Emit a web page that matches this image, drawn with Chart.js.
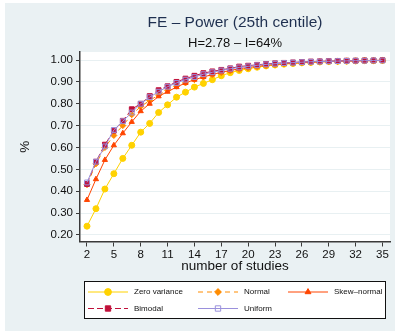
<!DOCTYPE html>
<html>
<head>
<meta charset="utf-8">
<script src="https://cdn.jsdelivr.net/npm/chart.js@4"></script>
<style>
  html, body { margin: 0; padding: 0; background: #ffffff; }
  #wrap { width: 395px; height: 331px; }
</style>
</head>
<body>
<div id="wrap"><canvas id="myChart" width="395" height="331"></canvas></div>
<script>
// number of studies (x) and power per distribution of effects
const studies = [2, 3, 4, 5, 6, 7, 8, 9, 10, 11, 12, 13, 14, 15, 16, 17, 18, 19, 20,
  21, 22, 23, 24, 25, 26, 27, 28, 29, 30, 31, 32, 33, 34, 35];

const zeroVariance = [0.24, 0.32, 0.41, 0.48, 0.55, 0.61, 0.67, 0.71, 0.76, 0.795, 0.83, 0.853,
  0.876, 0.893, 0.91, 0.928, 0.942, 0.952, 0.96, 0.967, 0.973, 0.977, 0.981, 0.984, 0.987,
  0.989, 0.991, 0.993, 0.994, 0.995, 0.996, 0.997, 0.997, 0.998];
const normal = [0.43, 0.525, 0.6, 0.655, 0.7, 0.75, 0.787, 0.815, 0.84, 0.862, 0.88, 0.895,
  0.91, 0.922, 0.932, 0.942, 0.95, 0.957, 0.963, 0.969, 0.974, 0.978, 0.982, 0.985, 0.987,
  0.989, 0.991, 0.992, 0.993, 0.994, 0.995, 0.996, 0.997, 0.997];
const skewNormal = [0.36, 0.455, 0.543, 0.61, 0.665, 0.717, 0.766, 0.8, 0.834, 0.855, 0.876,
  0.895, 0.91, 0.922, 0.934, 0.944, 0.952, 0.96, 0.966, 0.971, 0.976, 0.98, 0.983, 0.986,
  0.988, 0.99, 0.992, 0.993, 0.994, 0.995, 0.996, 0.997, 0.997, 0.998];
const bimodal = [0.433, 0.535, 0.613, 0.677, 0.722, 0.775, 0.8, 0.835, 0.862, 0.88, 0.9, 0.915,
  0.928, 0.94, 0.948, 0.955, 0.962, 0.97, 0.974, 0.978, 0.982, 0.985, 0.987, 0.989, 0.991,
  0.993, 0.994, 0.995, 0.996, 0.997, 0.997, 0.998, 0.998, 0.999];
const uniform = [0.44, 0.535, 0.605, 0.68, 0.72, 0.76, 0.8, 0.83, 0.855, 0.878, 0.895, 0.91,
  0.922, 0.935, 0.944, 0.952, 0.96, 0.966, 0.971, 0.976, 0.98, 0.983, 0.986, 0.988, 0.99,
  0.992, 0.993, 0.994, 0.995, 0.996, 0.997, 0.997, 0.998, 0.998];

const xTicks = [2, 5, 8, 11, 14, 17, 20, 23, 26, 29, 32, 35];
const yTicks = [0.2, 0.3, 0.4, 0.5, 0.6, 0.7, 0.8, 0.9, 1.0];

const titleText = "FE \u2013 Power (25th centile)";
const subtitleText = "H=2.78 \u2013 I=64%";

const bgColor = "#eaf1f3";
const fontFamily = "'Liberation Sans', Arial, Helvetica, sans-serif";
Chart.defaults.font.family = fontFamily;

function pts(values) {
  return values.map(function(v, i) { return { x: studies[i], y: v }; });
}

// fond gris bleuté + zone de tracé blanche
const backgroundPlugin = {
  id: "background",
  beforeDraw: function(chart) {
    const c = chart.ctx;
    const a = chart.chartArea;
    c.save();
    c.fillStyle = "#ffffff";
    c.fillRect(0, 0, chart.width, chart.height);
    c.fillStyle = bgColor;
    c.fillRect(5, 3, chart.width - 5, chart.height - 3);
    c.fillStyle = "#ffffff";
    c.fillRect(a.left, a.top, a.right - a.left, a.bottom - a.top);
    c.restore();
  }
};

// titre et sous-titre centrés sur la zone de tracé
const titlePlugin = {
  id: "titles",
  afterDraw: function(chart) {
    const c = chart.ctx;
    const a = chart.chartArea;
    const cx = (a.left + a.right) / 2;
    c.save();
    c.textAlign = "center";
    c.textBaseline = "middle";
    c.fillStyle = "#1f3050";
    c.font = "15.5px " + fontFamily;
    c.fillText(titleText, cx, 23);
    c.fillStyle = "#111111";
    c.font = "13px " + fontFamily;
    c.fillText(subtitleText, cx, 43);
    c.restore();
  }
};

// légende encadrée à 3 colonnes, façon Stata
const legendPlugin = {
  id: "boxLegend",
  afterDraw: function(chart) {
    const c = chart.ctx;
    const cols = [88, 198, 288];
    const rows = [292, 308.5];
    c.save();
    c.fillStyle = "#ffffff";
    c.fillRect(84, 281, 302, 37.5);
    c.strokeStyle = "#111111";
    c.lineWidth = 1;
    c.strokeRect(84.5, 281.5, 301, 37);
    chart.data.datasets.forEach(function(ds, i) {
      const x = cols[i % 3];
      const y = rows[Math.floor(i / 3)];
      c.strokeStyle = ds.borderColor;
      c.lineWidth = 1;
      c.setLineDash(ds.borderDash || []);
      c.beginPath();
      c.moveTo(x, y);
      c.lineTo(x + 40, y);
      c.stroke();
      c.setLineDash([]);
      c.fillStyle = ds.pointBackgroundColor;
      c.strokeStyle = ds.pointBorderColor;
      c.lineWidth = 1;
      Chart.helpers.drawPoint(c, {
        pointStyle: ds.pointStyle, rotation: 0,
        radius: ds.pointRadius + 0.4, borderWidth: 1
      }, x + 20, y);
      c.fillStyle = "#111111";
      c.font = "8px " + fontFamily;
      c.textAlign = "left";
      c.textBaseline = "middle";
      c.fillText(ds.label, x + 46, y);
    });
    c.restore();
  }
};

function series(label, values, color, style, dash, order, fill) {
  return {
    label: label,
    data: pts(values),
    borderColor: color,
    backgroundColor: color,
    borderWidth: 1,
    borderDash: dash,
    pointStyle: style,
    pointRadius: style === "rect" ? 3.4 : 3,
    pointBackgroundColor: fill,
    pointBorderColor: color,
    pointBorderWidth: 1,
    tension: 0,
    order: order
  };
}

var ctx = document.getElementById("myChart").getContext("2d");
var myChart = new Chart(ctx, {
  type: "line",
  data: {
    datasets: [
      series("Zero variance", zeroVariance, "#ffd200", "circle", [], 5, "#ffd200"),
      series("Normal", normal, "#ff8c00", "rectRot", [5, 4], 4, "#ff8c00"),
      series("Skew\u2013normal", skewNormal, "#ff4500", "triangle", [], 3, "#ff4500"),
      series("Bimodal", bimodal, "#c0103a", "rect", [6, 3], 2, "#c0103a"),
      series("Uniform", uniform, "#9a90dc", "rect", [], 1, "rgba(255,255,255,0)")
    ]
  },
  options: {
    responsive: false,
    animation: false,
    devicePixelRatio: 1,
    layout: { padding: { left: 17, top: 52, right: 5, bottom: 56.5 } },
    plugins: {
      legend: { display: false },
      tooltip: { enabled: false },
      title: { display: false }
    },
    scales: {
      x: {
        type: "linear",
        min: 1.22,
        max: 35.84,
        afterBuildTicks: function(s) { s.ticks = xTicks.map(function(v) { return { value: v }; }); },
        afterFit: function(s) { s.height = 33; },
        border: { display: true, color: "#3a3a3a", width: 1.5 },
        grid: { display: true, drawOnChartArea: false, drawTicks: true, tickLength: 5, tickColor: "#3a3a3a", tickWidth: 1 },
        ticks: { autoSkip: false, maxRotation: 0, padding: 1, color: "#111111", font: { size: 11.5 } },
        title: { display: true, text: "number of studies", color: "#111111", font: { size: 13.5 }, padding: 0 }
      },
      y: {
        type: "linear",
        min: 0.17,
        max: 1.0366,
        afterBuildTicks: function(s) { s.ticks = yTicks.map(function(v) { return { value: v }; }); },
        afterFit: function(s) { s.width = 63; },
        border: { display: true, color: "#3a3a3a", width: 1.5 },
        grid: { display: true, drawOnChartArea: true, color: "#e8f0f2", lineWidth: 1, drawTicks: true, tickLength: 4, tickColor: "#3a3a3a", tickWidth: 1 },
        ticks: {
          padding: 3, color: "#111111", font: { size: 11.5 },
          callback: function(v) { return Number(v).toFixed(2); }
        },
        title: { display: true, text: "%", color: "#111111", font: { size: 13.5 }, padding: 0 }
      }
    }
  },
  plugins: [backgroundPlugin, titlePlugin, legendPlugin]
});
</script>
</body>
</html>
